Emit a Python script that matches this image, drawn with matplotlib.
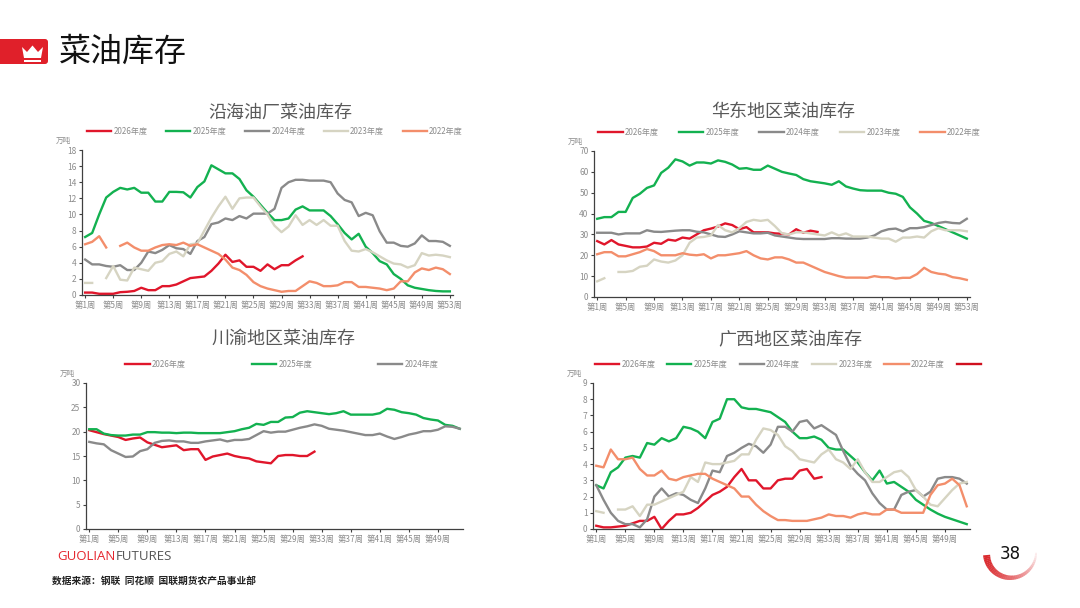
import numpy as np
import matplotlib
matplotlib.use("Agg")
import matplotlib.pyplot as plt
from matplotlib.patches import FancyBboxPatch, Polygon, Wedge, Rectangle
from matplotlib.lines import Line2D

plt.rcParams['font.family'] = ['Noto Sans CJK SC', 'DejaVu Sans']

nan = np.nan

# ---- 沿海油厂菜油库存 (weeks 1-53)
coast_2026 = [0.3, 0.3, 0.15, 0.15, 0.15, 0.35, 0.4, 0.5, 0.9, 0.6, 0.6, 1.1, 1.1, 1.3, 1.7, 2.1,
              2.2, 2.3, 3.0, 3.9, 5.0, 4.1, 4.3, 3.5, 3.5, 3.0, 3.8, 3.2, 3.7, 3.7, 4.3, 4.8]
coast_2025 = [7.2, 7.7, 10.0, 12.1, 12.8, 13.3, 13.1, 13.3, 12.7, 12.7, 11.6, 11.6, 12.8, 12.8, 12.75,
              12.1, 13.4, 14.1, 16.1, 15.6, 15.1, 15.1, 14.4, 13.0, 12.2, 11.2, 10.2, 9.3, 9.3, 9.5,
              10.6, 11.0, 10.5, 10.5, 10.5, 9.8, 8.8, 7.7, 6.9, 7.6, 6.0, 5.2, 4.2, 3.8, 2.6, 2.0,
              1.2, 0.9, 0.75, 0.6, 0.5, 0.45, 0.45]
coast_2024 = [4.4, 3.8, 3.8, 3.6, 3.5, 3.7, 3.1, 3.1, 4.0, 5.4, 5.2, 5.6, 6.2, 5.8, 5.7, 5.1, 6.7,
              7.2, 8.8, 9.0, 9.5, 9.3, 9.8, 9.5, 10.1, 10.1, 10.1, 10.7, 13.3, 14.0, 14.3, 14.3,
              14.2, 14.2, 14.2, 14.0, 12.6, 11.8, 11.5, 9.8, 10.2, 9.9, 7.9, 6.5, 6.5, 6.1, 6.0,
              6.4, 7.4, 6.7, 6.7, 6.6, 6.1]
coast_2023 = [1.5, 1.5, nan, 2.1, 3.6, 1.9, 1.8, 3.4, 3.2, 3.0, 4.0, 4.2, 5.1, 5.4, 4.8, 6.3, 6.4,
              8.0, 9.6, 11.0, 12.2, 10.7, 12.0, 12.1, 12.1, 11.0, 10.0, 8.6, 7.8, 8.5, 9.9, 8.7,
              9.3, 8.7, 9.3, 8.6, 8.6, 6.7, 5.5, 5.4, 5.7, 5.3, 4.8, 4.3, 3.9, 3.8, 3.4, 3.7, 5.2,
              4.9, 5.0, 4.9, 4.7]
coast_2022 = [6.3, 6.6, 7.3, 5.9, nan, 6.1, 6.5, 5.9, 5.5, 5.5, 5.9, 6.2, 6.3, 6.2, 6.5, 6.1, 6.3,
              5.9, 5.5, 5.1, 4.4, 3.4, 3.1, 2.5, 1.6, 1.1, 0.8, 0.6, 0.4, 0.5, 0.5, 1.1, 1.7, 1.5,
              1.1, 1.1, 1.2, 1.6, 1.6, 1.0, 1.0, 0.9, 0.8, 0.6, 0.8, 1.7, 1.7, 2.8, 3.3, 3.1, 3.4,
              3.2, 2.6]

# ---- 华东地区菜油库存 (weeks 1-53)
east_2026 = [26.8, 25.2, 27.3, 25.2, 24.5, 23.8, 23.8, 24.2, 26.0, 25.5, 27.5, 27.0, 28.5, 28.0,
             30.0, 32.0, 32.8, 33.8, 35.3, 34.5, 32.5, 33.5, 31.0, 31.0, 31.0, 30.5, 30.3, 30.0,
             32.5, 30.8, 31.8, 31.2]
east_2025 = [37.5, 38.3, 38.3, 40.8, 40.8, 47.5, 49.5, 52.3, 53.5, 59.5, 62.0, 66.0, 65.0, 63.0,
             64.5, 64.5, 64.0, 65.5, 64.8, 63.5, 61.5, 61.8, 61.0, 61.0, 63.0, 61.5, 60.0, 59.2,
             58.5, 56.5, 55.5, 55.0, 54.5, 53.8, 55.5, 53.0, 52.0, 51.2, 51.0, 51.0, 51.0, 50.0,
             49.5, 48.0, 43.0, 40.0, 36.5, 35.5, 34.0, 32.5, 31.0, 29.5, 28.0]
east_2024 = [30.8, 30.8, 30.8, 30.0, 30.5, 30.5, 30.5, 32.0, 31.3, 31.2, 31.5, 31.8, 32.0, 32.0,
             31.3, 31.0, 30.0, 29.0, 28.8, 30.0, 31.5, 31.0, 30.5, 30.5, 30.8, 29.5, 29.0, 28.5,
             28.0, 27.8, 27.8, 27.8, 27.8, 28.2, 28.2, 28.0, 28.0, 28.0, 28.5, 29.5, 31.5, 32.5,
             32.8, 31.5, 33.0, 33.0, 33.5, 34.5, 35.5, 36.0, 35.5, 35.3, 37.5]
east_2023 = [7.5, 9.0, nan, 12.0, 12.0, 12.5, 14.5, 15.0, 18.0, 17.0, 16.5, 17.5, 20.0, 26.0, 28.5,
             28.8, 29.5, 34.5, 32.0, 31.0, 33.0, 36.0, 37.0, 36.5, 37.0, 34.0, 30.5, 30.0, 31.0,
             31.0, 30.5, 30.0, 29.5, 31.0, 29.5, 30.5, 29.0, 29.0, 29.0, 28.5, 28.0, 28.0, 26.5,
             28.5, 28.5, 29.0, 28.5, 31.5, 33.0, 32.0, 32.0, 32.0, 31.5]
east_2022 = [20.5, 21.5, 21.5, 19.5, 19.5, 20.5, 21.5, 23.0, 22.0, 20.0, 20.0, 20.0, 21.0, 20.3,
             20.0, 20.5, 18.5, 20.0, 20.0, 20.5, 21.0, 22.0, 20.0, 18.5, 18.0, 19.0, 19.0, 18.0,
             16.5, 16.5, 15.0, 13.5, 12.0, 11.0, 10.0, 9.3, 9.3, 9.3, 9.2, 10.0, 9.5, 9.5, 8.8,
             9.2, 9.2, 11.0, 14.0, 12.0, 11.2, 10.8, 9.5, 9.0, 8.2]

# ---- 川渝地区菜油库存 (weeks 1-52)
sc_2026 = [20.3, 19.9, 19.5, 19.2, 18.9, 18.3, 18.6, 18.8, 17.8, 17.3, 16.8, 17.0, 17.2, 16.2, 16.4,
           16.4, 14.2, 14.9, 15.2, 15.5, 15.0, 14.7, 14.5, 13.9, 13.7, 13.5, 15.0, 15.2, 15.2, 15.0,
           15.0, 15.9]
sc_2025 = [20.5, 20.5, 19.6, 19.3, 19.2, 19.2, 19.4, 19.4, 19.9, 19.9, 19.8, 19.8, 19.7, 19.8, 19.8,
           19.7, 19.7, 19.7, 19.7, 19.9, 20.1, 20.5, 20.8, 21.6, 21.4, 22.0, 22.0, 22.9, 23.0, 23.9,
           24.2, 24.0, 23.8, 23.6, 23.8, 24.2, 23.5, 23.5, 23.5, 23.5, 23.8, 24.7, 24.5, 24.0, 23.8,
           23.5, 22.8, 22.5, 22.3, 21.4, 21.2, 20.6]
sc_2024 = [17.9, 17.6, 17.4, 16.2, 15.5, 14.8, 14.9, 16.0, 16.4, 17.7, 18.1, 18.2, 18.0, 18.0, 17.7,
           17.7, 18.0, 18.2, 18.4, 18.0, 18.3, 18.3, 18.5, 19.3, 20.1, 19.8, 20.0, 20.0, 20.4, 20.8,
           21.1, 21.5, 21.2, 20.6, 20.4, 20.2, 19.9, 19.6, 19.3, 19.3, 19.6, 19.0, 18.5, 18.9, 19.4,
           19.7, 20.1, 20.1, 20.4, 21.1, 21.0, 20.6]

# ---- 广西地区菜油库存 (weeks 1-52)
gx_2026 = [0.2, 0.1, 0.1, 0.15, 0.2, 0.35, 0.5, 0.5, 0.75, 0.0, 0.5, 0.9, 0.9, 1.0, 1.3, 1.7, 2.1,
           2.3, 2.6, 3.2, 3.7, 3.0, 3.0, 2.5, 2.5, 3.0, 3.1, 3.1, 3.6, 3.7, 3.1, 3.2]
gx_2025 = [2.7, 2.5, 3.5, 3.8, 4.4, 4.5, 4.4, 5.3, 5.2, 5.6, 5.4, 5.6, 6.3, 6.2, 6.0, 5.6, 6.6, 6.8,
           8.0, 8.0, 7.5, 7.4, 7.4, 7.3, 7.2, 6.9, 6.6, 6.0, 5.6, 5.6, 5.7, 5.5, 5.0, 4.9, 4.9, 4.5,
           4.1, 3.5, 3.0, 3.6, 2.8, 2.9, 2.6, 2.3, 1.8, 1.5, 1.2, 0.95, 0.75, 0.6, 0.45, 0.3]
gx_2024 = [2.7, 1.8, 1.0, 0.5, 0.3, 0.3, 0.1, 0.6, 2.0, 2.5, 2.0, 2.2, 2.1, 1.8, 1.6, 2.5, 3.6, 3.5,
           4.5, 4.7, 5.0, 5.25, 5.1, 4.7, 5.2, 6.3, 6.3, 6.0, 6.6, 6.7, 6.2, 6.4, 6.1, 5.8, 4.8, 3.9,
           3.4, 3.0, 2.2, 1.6, 1.2, 1.2, 2.1, 2.3, 2.4, 2.0, 2.3, 3.1, 3.2, 3.2, 3.1, 2.8]
gx_2023 = [1.1, 1.0, nan, 1.2, 1.2, 1.4, 0.8, 1.5, 1.5, 1.7, 1.9, 2.1, 2.3, 3.2, 2.9, 4.1, 4.0, 4.0,
           4.1, 4.2, 4.6, 4.6, 5.5, 6.2, 6.1, 5.8, 5.1, 4.8, 4.3, 4.2, 4.1, 4.6, 4.9, 4.3, 4.1, 3.7,
           4.3, 3.5, 2.9, 2.9, 3.2, 3.5, 3.6, 3.2, 2.4, 2.0, 1.5, 1.4, 1.9, 2.4, 2.8, 2.9]
gx_2022 = [3.9, 3.8, 4.9, 4.3, 4.3, 4.4, 3.7, 3.3, 3.3, 3.6, 3.1, 3.0, 3.2, 3.3, 3.4, 3.4, 3.1, 2.9,
           2.7, 2.5, 2.0, 2.0, 1.5, 1.1, 0.8, 0.55, 0.55, 0.5, 0.5, 0.5, 0.6, 0.7, 0.9, 0.8, 0.8, 0.7,
           0.9, 1.0, 0.9, 0.9, 1.2, 1.2, 1.0, 1.0, 1.0, 1.0, 2.1, 2.7, 2.8, 3.1, 2.7, 1.4]

years = ['2026年度', '2025年度', '2024年度', '2023年度', '2022年度']
colors = ['#E0162B', '#13B150', '#8A8A8A', '#D6D4C2', '#F38E6B']

W, H = 1080, 608
fig = plt.figure(figsize=(10.8, 6.08), dpi=100)
fig.patch.set_facecolor('white')

# overlay for titles/header/footer, in pixel coordinates
ov = fig.add_axes([0, 0, 1, 1], zorder=-1)
ov.set_xlim(0, W)
ov.set_ylim(H, 0)
ov.axis('off')


def px_axes(l, t, r, b):
    return fig.add_axes([l / W, 1 - b / H, (r - l) / W, (b - t) / H])


def draw_panel(box, title, title_xy, series, ymax, ystep, nweeks, ticks, colspace, extra=False):
    ax = px_axes(*box)
    x = np.arange(1, nweeks + 1)
    for data, c, lab in series:
        d = np.array(data, dtype=float)
        ax.plot(x[:len(d)], d, color=c, lw=1.7, label=lab, solid_joinstyle='round')
    ax.set_xlim(0.55, nweeks + 0.45)
    ax.set_ylim(0, ymax)
    ax.set_yticks(np.arange(0, ymax + 0.1, ystep))
    ax.set_xticks(ticks)
    ax.set_xticklabels([f'第{t}周' for t in ticks])
    for s in ['top', 'right']:
        ax.spines[s].set_visible(False)
    for s in ['left', 'bottom']:
        ax.spines[s].set_color('#404040')
        ax.spines[s].set_linewidth(0.9)
    ax.tick_params(axis='both', labelsize=6, colors='#404040', labelcolor='#8C8C8C',
                   length=2.5, width=0.8, pad=1.5)
    ax.text(-0.05, 1.035, '万吨', transform=ax.transAxes, fontsize=5.5, color='#8C8C8C',
            ha='center', va='bottom')
    ov.text(title_xy[0], title_xy[1], title, fontsize=13, color='#595959', ha='center', va='center')
    handles, labels = ax.get_legend_handles_labels()
    if extra:
        handles.append(Line2D([], [], color='#D0101E', lw=1.7))
        labels.append('')
    ax.legend(handles, labels, loc='center', bbox_to_anchor=(0.52, 1.13), ncol=len(handles),
              frameon=False, fontsize=5.8, handlelength=3.0, columnspacing=colspace,
              handletextpad=0.3, labelcolor='#8C8C8C', borderaxespad=0)
    return ax


five_ticks = list(range(1, 54, 4))
bottom_ticks = list(range(1, 50, 4))

draw_panel((82, 150, 453, 295), '沿海油厂菜油库存', (280, 113),
           zip([coast_2026, coast_2025, coast_2024, coast_2023, coast_2022], colors, years),
           18, 2, 53, five_ticks, 2.3)
draw_panel((594, 151, 970, 297), '华东地区菜油库存', (783, 112),
           zip([east_2026, east_2025, east_2024, east_2023, east_2022], colors, years),
           70, 10, 53, five_ticks, 2.5)
draw_panel((86, 383, 463, 529), '川渝地区菜油库存', (283, 339),
           zip([sc_2026, sc_2025, sc_2024], colors[:3], years[:3]),
           30, 5, 52, bottom_ticks, 8.2)
draw_panel((593, 383, 970, 529), '广西地区菜油库存', (790, 340),
           zip([gx_2026, gx_2025, gx_2024, gx_2023, gx_2022], colors, years),
           9, 1, 52, bottom_ticks, 1.5, extra=True)

ov.add_patch(FancyBboxPatch((-10, 39), 58, 25, boxstyle='round,pad=0,rounding_size=3',
                            fc='#E0202A', ec='none'))
crown = [(22, 47), (27, 52), (32.5, 45.5), (38, 52), (43, 47), (41, 58), (24, 58)]
ov.add_patch(Polygon(crown, closed=True, fc='white', ec='none'))
ov.add_patch(Rectangle((24, 59.5), 17, 2, fc='white', ec='none'))
ov.text(59, 52, '菜油库存', fontsize=23, color='#111111', va='center', ha='left')

ov.text(57, 557, 'GUOLIAN', fontsize=9.5, color='#E5262E', va='center', ha='left',
        family=['Open Sans', 'DejaVu Sans'])
ov.text(116, 557, 'FUTURES', fontsize=9.5, color='#555555', va='center', ha='left',
        family=['Open Sans', 'DejaVu Sans'])
ov.text(52, 581, '数据来源：钢联  同花顺  国联期货农产品事业部', fontsize=7, color='#222222',
        va='center', ha='left', fontweight='bold')

# page number ring
cx, cy = 1010, 553
n = 40
for i in range(n):
    a0 = 185 + i * (175 / n)
    a1 = a0 + 175 / n + 0.5
    frac = i / n
    ov.add_patch(Wedge((cx, cy), 27, -a1, -a0, width=7 * (1 - 0.75 * frac),
                       fc='#DA2A2E', ec='none', alpha=max(0.08, 1 - frac ** 1.5)))
ov.text(cx, cy + 1, '38', fontsize=12, color='#111111', ha='center', va='center',
        family=['DejaVu Sans'])

fig.savefig('out.png', dpi=100, facecolor='white')
